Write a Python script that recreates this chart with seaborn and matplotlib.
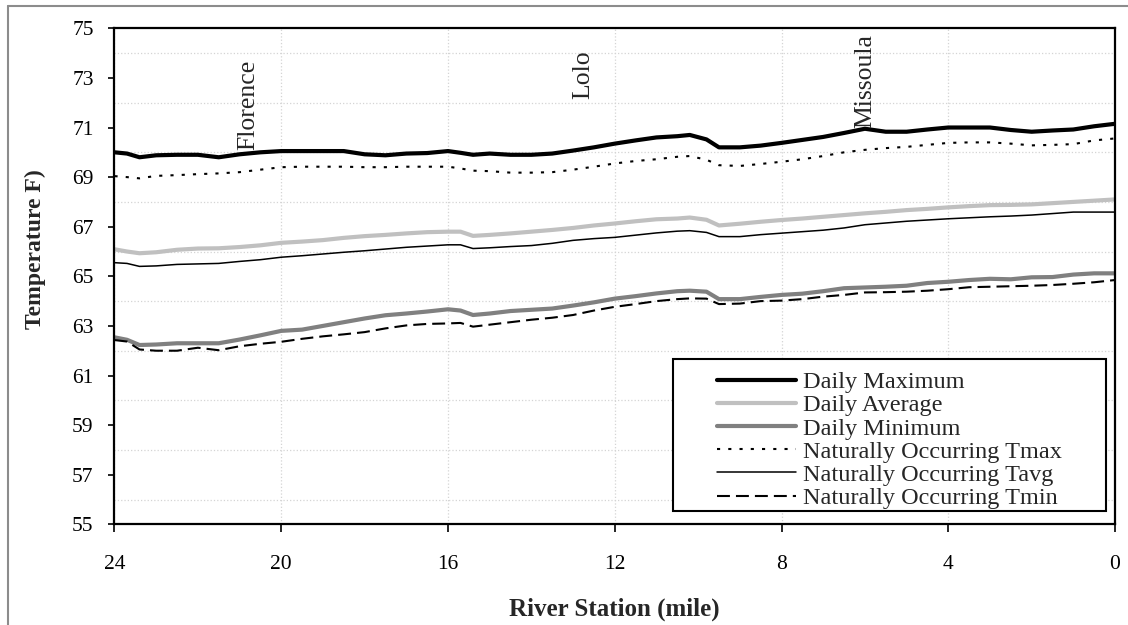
import matplotlib
matplotlib.use("Agg")
import matplotlib.pyplot as plt
from matplotlib.lines import Line2D
from matplotlib.patches import Rectangle
import seaborn as sns
import pandas as pd

# river station (mile), upstream -> downstream
stations = [24.0, 23.7, 23.4, 23.0, 22.5, 22.0, 21.5, 21.0, 20.5, 20.0, 19.5, 19.0,
            18.5, 18.0, 17.5, 17.0, 16.5, 16.0, 15.7, 15.4, 15.0, 14.5, 14.0, 13.5,
            13.0, 12.5, 12.0, 11.5, 11.0, 10.5, 10.2, 9.8, 9.5, 9.0, 8.5, 8.0,
            7.5, 7.0, 6.5, 6.0, 5.5, 5.0, 4.5, 4.0, 3.5, 3.0, 2.5, 2.0,
            1.5, 1.0, 0.5, 0.0]

daily_max = [70.0, 69.95, 69.8, 69.88, 69.9, 69.9, 69.8, 69.92, 70.0, 70.05, 70.05, 70.05,
             70.05, 69.92, 69.88, 69.95, 69.97, 70.05, 69.98, 69.9, 69.95, 69.9, 69.9, 69.95,
             70.07, 70.2, 70.35, 70.48, 70.6, 70.65, 70.7, 70.52, 70.2, 70.2, 70.27, 70.38,
             70.5, 70.62, 70.78, 70.95, 70.83, 70.83, 70.92, 71.0, 71.0, 71.0, 70.9, 70.83,
             70.88, 70.92, 71.05, 71.15]

daily_avg = [66.09, 66.0, 65.93, 65.97, 66.07, 66.12, 66.13, 66.18, 66.25, 66.35, 66.4, 66.46,
             66.55, 66.62, 66.67, 66.73, 66.78, 66.8, 66.8, 66.63, 66.67, 66.73, 66.8, 66.87,
             66.95, 67.05, 67.13, 67.22, 67.3, 67.33, 67.37, 67.28, 67.05, 67.12, 67.2, 67.27,
             67.33, 67.4, 67.47, 67.54, 67.6, 67.67, 67.72, 67.78, 67.83, 67.87, 67.88, 67.9,
             67.95, 68.0, 68.05, 68.1]

daily_min = [62.54, 62.44, 62.23, 62.25, 62.3, 62.3, 62.3, 62.45, 62.62, 62.8, 62.85, 63.0,
             63.15, 63.3, 63.43, 63.5, 63.58, 63.67, 63.62, 63.44, 63.5, 63.6, 63.65, 63.7,
             63.82, 63.95, 64.1, 64.2, 64.31, 64.4, 64.42, 64.38, 64.08, 64.08, 64.17, 64.25,
             64.3, 64.4, 64.52, 64.55, 64.58, 64.62, 64.73, 64.78, 64.85, 64.9, 64.88, 64.96,
             64.97, 65.07, 65.12, 65.12]

nat_tmax = [69.04, 69.0, 68.95, 69.05, 69.08, 69.12, 69.15, 69.2, 69.3, 69.4, 69.42, 69.42,
            69.42, 69.4, 69.4, 69.42, 69.42, 69.42, 69.35, 69.26, 69.24, 69.18, 69.18, 69.2,
            69.3, 69.42, 69.55, 69.65, 69.72, 69.82, 69.85, 69.7, 69.48, 69.45, 69.53, 69.62,
            69.72, 69.85, 70.0, 70.1, 70.17, 70.22, 70.3, 70.38, 70.4, 70.4, 70.35, 70.28,
            70.3, 70.33, 70.48, 70.56]

nat_tavg = [65.55, 65.52, 65.4, 65.42, 65.48, 65.5, 65.52, 65.6, 65.67, 65.77, 65.83, 65.9,
            65.97, 66.03, 66.1, 66.17, 66.22, 66.27, 66.27, 66.12, 66.15, 66.2, 66.24, 66.33,
            66.45, 66.52, 66.57, 66.66, 66.75, 66.82, 66.84, 66.77, 66.6, 66.6, 66.68, 66.74,
            66.8, 66.86, 66.95, 67.08, 67.15, 67.22, 67.27, 67.32, 67.36, 67.4, 67.43, 67.47,
            67.53, 67.59, 67.59, 67.59]

nat_tmin = [62.43, 62.37, 62.05, 62.0, 62.0, 62.12, 62.02, 62.18, 62.28, 62.36, 62.48, 62.58,
            62.66, 62.75, 62.9, 63.02, 63.08, 63.1, 63.12, 62.97, 63.05, 63.15, 63.25, 63.33,
            63.44, 63.62, 63.77, 63.88, 64.0, 64.08, 64.11, 64.1, 63.88, 63.9, 64.0, 64.02,
            64.08, 64.18, 64.25, 64.35, 64.36, 64.38, 64.42, 64.48, 64.56, 64.58, 64.6, 64.62,
            64.65, 64.7, 64.76, 64.85]

series_names = ["Daily Maximum", "Daily Average", "Daily Minimum",
                "Naturally Occurring Tmax", "Naturally Occurring Tavg", "Naturally Occurring Tmin"]
series_values = [daily_max, daily_avg, daily_min, nat_tmax, nat_tavg, nat_tmin]

towns = ["Florence", "Lolo", "Missoula"]
town_miles = [20.8, 12.76, 6.0]
town_label_y = [70.1, 72.15, 70.98]

x_ticks = [24, 20, 16, 12, 8, 4, 0]
y_ticks = [55, 57, 59, 61, 63, 65, 67, 69, 71, 73, 75]

# line styles: (color, width, dashes or None)
styles = {
    "Daily Maximum": ("black", 3.0, None),
    "Daily Average": ("#c0c0c0", 3.0, None),
    "Daily Minimum": ("#808080", 3.0, None),
    "Naturally Occurring Tmax": ("black", 1.5, (1.5, 3.9)),
    "Naturally Occurring Tavg": ("black", 1.1, None),
    "Naturally Occurring Tmin": ("black", 1.5, (6.2, 2.9)),
}

df = pd.concat([
    pd.DataFrame({"station": stations, "temp": vals, "series": name})
    for name, vals in zip(series_names, series_values)
])

sns.set_theme(style="white")
plt.rcParams["font.family"] = ["Liberation Serif", "DejaVu Serif"]

fig = plt.figure(figsize=(11.28, 6.25), dpi=100)
ax = fig.add_axes([0.1015, 0.1611, 0.8870, 0.7936])

for name in series_names:
    color, lw, dashes = styles[name]
    sub = df[df["series"] == name]
    sns.lineplot(data=sub, x="station", y="temp", ax=ax, color=color,
                 linewidth=lw, label=name, estimator=None, sort=False)
    if dashes is not None:
        ax.lines[-1].set_dashes(dashes)

ax.set_xlim(24, 0)
ax.set_ylim(55, 75)
ax.set_xticks(x_ticks)
ax.set_yticks(y_ticks)
ax.set_yticks(range(55, 76), minor=True)
ax.grid(which="major", axis="x", color="#d4d4d4", linestyle=":", linewidth=0.9)
ax.grid(which="minor", axis="y", color="#d4d4d4", linestyle=":", linewidth=0.9)
ax.tick_params(axis="x", which="major", direction="out", length=6, width=1.2,
               bottom=True, pad=16, labelsize=15.5, colors="black")
ax.tick_params(axis="y", which="major", direction="out", length=4, width=1.2,
               left=True, pad=11, labelsize=15.5, colors="black")
ax.tick_params(axis="y", which="minor", left=False)
for sp in ax.spines.values():
    sp.set_color("black")
    sp.set_linewidth(1.6)

ax.set_xlabel("River Station (mile)", fontsize=18, fontweight="bold", labelpad=17)
ax.set_ylabel("Temperature F)", fontsize=17, fontweight="bold", labelpad=19)
ax.yaxis.label.set_y(0.555)

for town, mile, ty in zip(towns, town_miles, town_label_y):
    ax.text(mile, ty, town, rotation=90, ha="center", va="bottom", fontsize=18.5)

# legend box drawn separately so the padding can match the original
ax.add_patch(Rectangle((0.558, 0.027), 0.4327, 0.3057, transform=ax.transAxes,
                       facecolor="white", edgecolor="black", linewidth=1.5, zorder=4))
leg = ax.legend(loc="upper left", bbox_to_anchor=(0.6018, 0.309), frameon=False,
                fontsize=17.5, handlelength=3.25, handletextpad=0.3, labelspacing=0.05,
                borderpad=0, borderaxespad=0)
leg.set_zorder(5)

# outer chart border (left and top visible)
fig.add_artist(Line2D([8 / 1128, 8 / 1128], [0, 1 - 5.5 / 625], transform=fig.transFigure,
                      color="#8c8c8c", linewidth=1.5))
fig.add_artist(Line2D([8 / 1128, 1], [1 - 5.5 / 625, 1 - 5.5 / 625], transform=fig.transFigure,
                      color="#8c8c8c", linewidth=1.5))

fig.savefig("out.png", dpi=100)
